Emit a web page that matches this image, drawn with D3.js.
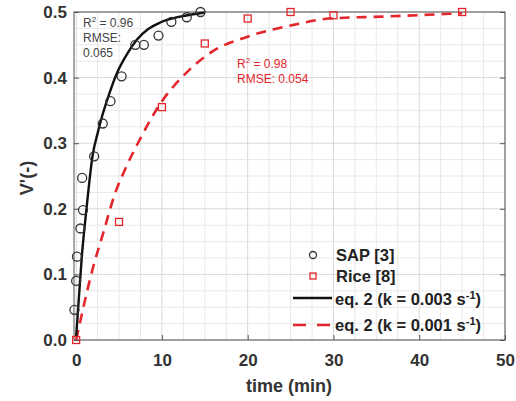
<!DOCTYPE html>
<html>
<head>
    <meta charset="utf-8">
    <style>
        body { margin: 0; background: white; }
        svg { font-family: 'Liberation Sans', Arial, sans-serif; }
        .tick-label { font-size: 17px; font-weight: bold; fill: #333; }
        .axis-title { font-size: 18px; font-weight: bold; fill: #333; }
        .legend-text { font-size: 16.5px; font-weight: bold; fill: #222; }
        .fit-note { font-size: 12px; }
    </style>
</head>
<body>
<svg width="516" height="401"></svg>

<script src="https://d3js.org/d3.v7.min.js"></script>
<script>
    // data
    let sapTime = [-0.2, 0, 0.1, 0.5, 0.8, 0.7, 2.1, 3.1, 4.0, 5.3, 6.9, 7.9, 9.6, 11.1, 12.9, 14.5]
    let sapV = [0.046, 0.09, 0.127, 0.17, 0.198, 0.247, 0.28, 0.33, 0.364, 0.402, 0.45, 0.45, 0.464, 0.485, 0.492, 0.5]

    let riceTime = [0, 5, 10, 15, 20, 25, 30, 45]
    let riceV = [0, 0.18, 0.355, 0.452, 0.49, 0.5, 0.495, 0.5]

    let fit1Time = [0, 0.35, 0.65, 1.23, 1.93, 2.5, 3, 3.75, 4.7, 5.9, 7.1, 8.4, 9.8, 12.1, 14.4, 15]
    let fit1V = [0.005, 0.07, 0.125, 0.203, 0.282, 0.315, 0.34, 0.371, 0.405, 0.435, 0.458, 0.474, 0.484, 0.493, 0.498, 0.499]

    let fit2Time = [0, 2, 3.2, 4.5, 5.7, 7.4, 9.8, 12.9, 15.9, 19.9, 25.2, 29.5, 35.7, 45]
    let fit2V = [0, 0.112, 0.165, 0.222, 0.26, 0.305, 0.36, 0.408, 0.44, 0.462, 0.48, 0.49, 0.493, 0.498]

    let xTicks = [0, 10, 20, 30, 40, 50]
    let yTicks = [0, 0.1, 0.2, 0.3, 0.4, 0.5]

    let red = "#e3262c"

    let svg = d3.select("svg")

    let plotLeft = 74, plotRight = 505, plotTop = 12, plotBottom = 340

    let x = d3.scaleLinear().domain([-0.25, 50]).range([plotLeft, plotRight])
    let y = d3.scaleLinear().domain([0, 0.5]).range([plotBottom, plotTop])

    // minor grid
    let xMinor = d3.range(0, 50.01, 2.5)
    let yMinor = d3.range(0, 0.5001, 0.025)

    svg.append("g")
        .selectAll("line")
        .data(xMinor)
        .join("line")
        .attr("x1", d => x(d)).attr("x2", d => x(d))
        .attr("y1", plotTop).attr("y2", plotBottom)
        .style("stroke", d => (d % 10 === 0) ? "#d9d9d9" : "#e8e8e8")
        .style("stroke-width", 1)

    svg.append("g")
        .selectAll("line")
        .data(yMinor)
        .join("line")
        .attr("x1", plotLeft).attr("x2", plotRight)
        .attr("y1", d => y(d)).attr("y2", d => y(d))
        .style("stroke", (d, i) => (i % 4 === 0) ? "#d9d9d9" : "#e8e8e8")
        .style("stroke-width", 1)

    // frame
    svg.append("rect")
        .attr("x", plotLeft).attr("y", plotTop)
        .attr("width", plotRight - plotLeft).attr("height", plotBottom - plotTop)
        .style("fill", "none")
        .style("stroke", "#555")
        .style("stroke-width", 1)

    // axes with inward ticks
    let xAxis = d3.axisBottom(x).tickValues(xTicks).tickSize(-5).tickFormat(d3.format("d"))
    let gx = svg.append("g").attr("transform", `translate(0,${plotBottom})`).call(xAxis)
    gx.select(".domain").remove()
    gx.selectAll(".tick line").style("stroke", "#555")
    gx.selectAll("text").attr("class", "tick-label").attr("y", 14).attr("dy", "0.71em")

    let yAxis = d3.axisLeft(y).tickValues(yTicks).tickSize(-5).tickFormat(d3.format(".1f"))
    let gy = svg.append("g").attr("transform", `translate(${plotLeft},0)`).call(yAxis)
    gy.select(".domain").remove()
    gy.selectAll(".tick line").style("stroke", "#555")
    gy.selectAll("text").attr("class", "tick-label").attr("x", -7)

    let yAxisR = d3.axisRight(y).tickValues(yTicks).tickSize(-5).tickFormat("")
    let gyr = svg.append("g").attr("transform", `translate(${plotRight},0)`).call(yAxisR)
    gyr.select(".domain").remove()
    gyr.selectAll(".tick line").style("stroke", "#555")

    // axis titles
    svg.append("text")
        .attr("class", "axis-title")
        .attr("x", 289).attr("y", 392)
        .attr("text-anchor", "middle")
        .text("time (min)")

    svg.append("text")
        .attr("class", "axis-title")
        .attr("transform", "translate(33,178) rotate(-90)")
        .attr("text-anchor", "middle")
        .text("V'(-)")

    // fit lines
    let line = d3.line().x(d => x(d[0])).y(d => y(d[1])).curve(d3.curveMonotoneX)

    svg.append("path")
        .datum(d3.zip(fit2Time, fit2V))
        .attr("d", line)
        .style("fill", "none")
        .style("stroke", red)
        .style("stroke-width", 2.6)
        .style("stroke-dasharray", "10,7")

    svg.append("path")
        .datum(d3.zip(fit1Time, fit1V))
        .attr("d", line)
        .style("fill", "none")
        .style("stroke", "#111")
        .style("stroke-width", 2.4)

    // markers
    svg.append("g")
        .selectAll("circle")
        .data(d3.zip(sapTime, sapV))
        .join("circle")
        .attr("cx", d => x(d[0]))
        .attr("cy", d => y(d[1]))
        .attr("r", 4.5)
        .style("fill", "none")
        .style("stroke", "#333")
        .style("stroke-width", 1.3)

    svg.append("g")
        .selectAll("rect")
        .data(d3.zip(riceTime, riceV))
        .join("rect")
        .attr("x", d => x(d[0]) - 3.5)
        .attr("y", d => y(d[1]) - 3.5)
        .attr("width", 7).attr("height", 7)
        .style("fill", "none")
        .style("stroke", red)
        .style("stroke-width", 1.3)

    // fit annotations
    let note1 = svg.append("text").attr("class", "fit-note").style("fill", "#444")
    note1.append("tspan").attr("x", 83).attr("y", 27).text("R")
    note1.append("tspan").attr("dy", -5).style("font-size", "8px").text("2")
    note1.append("tspan").attr("dy", 5).text(" = 0.96")
    svg.append("text").attr("class", "fit-note").style("fill", "#444").attr("x", 83).attr("y", 42).text("RMSE:")
    svg.append("text").attr("class", "fit-note").style("fill", "#444").attr("x", 83).attr("y", 57).text("0.065")

    let note2 = svg.append("text").attr("class", "fit-note").style("fill", red)
    note2.append("tspan").attr("x", 237).attr("y", 68).text("R")
    note2.append("tspan").attr("dy", -5).style("font-size", "8px").text("2")
    note2.append("tspan").attr("dy", 5).text(" = 0.98")
    svg.append("text").attr("class", "fit-note").style("fill", red).attr("x", 237).attr("y", 83).text("RMSE: 0.054")

    // legend
    let lg = svg.append("g")
    lg.append("circle").attr("cx", 313).attr("cy", 255).attr("r", 3.5)
        .style("fill", "none").style("stroke", "#333").style("stroke-width", 1.3)
    lg.append("text").attr("class", "legend-text").attr("x", 336).attr("y", 261).text("SAP [3]")

    lg.append("rect").attr("x", 310).attr("y", 273).attr("width", 6).attr("height", 6)
        .style("fill", "none").style("stroke", red).style("stroke-width", 1.3)
    lg.append("text").attr("class", "legend-text").attr("x", 336).attr("y", 282).text("Rice [8]")

    lg.append("line").attr("x1", 293).attr("x2", 332).attr("y1", 298).attr("y2", 298)
        .style("stroke", "#111").style("stroke-width", 2.4)
    let t1 = lg.append("text").attr("class", "legend-text").attr("x", 335).attr("y", 305)
    t1.append("tspan").text("eq. 2 (k = 0.003 s")
    t1.append("tspan").attr("dy", -6).style("font-size", "11px").text("-1")
    t1.append("tspan").attr("dy", 6).text(")")

    lg.append("line").attr("x1", 293).attr("x2", 332).attr("y1", 325).attr("y2", 325)
        .style("stroke", red).style("stroke-width", 2.6).style("stroke-dasharray", "13,11")
    let t2 = lg.append("text").attr("class", "legend-text").attr("x", 335).attr("y", 331)
    t2.append("tspan").text("eq. 2 (k = 0.001 s")
    t2.append("tspan").attr("dy", -6).style("font-size", "11px").text("-1")
    t2.append("tspan").attr("dy", 6).text(")")
</script>
</body>
</html>
